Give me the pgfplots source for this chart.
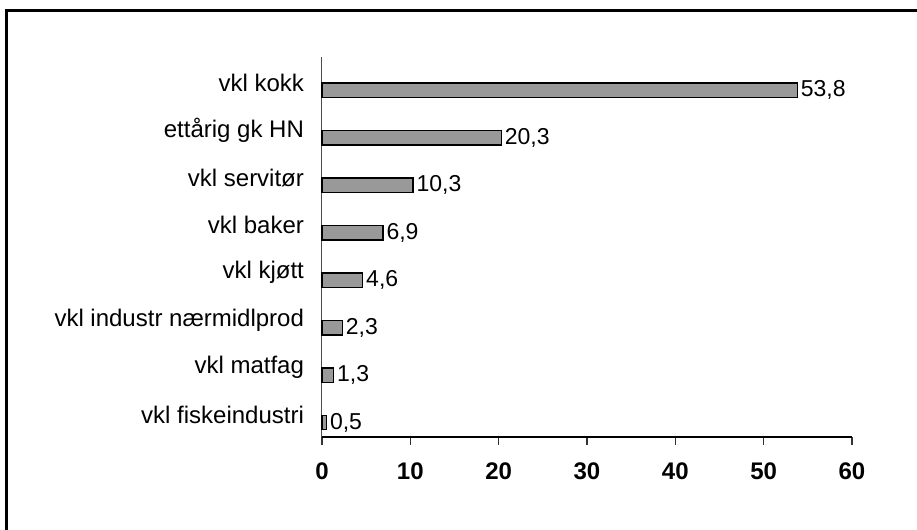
\documentclass[border=0pt]{standalone}
\usepackage{pgfplots}
\pgfplotsset{compat=1.18}
\usepackage{fontspec}
\setmainfont{Liberation Sans}
\begin{document}
\begin{tikzpicture}
\begin{axis}[
    at={(0,0)}, anchor=south west,
    scale only axis,
    width=265pt, height=190pt,
    xbar,
    bar width=7.25pt,
    bar shift=-4.7pt,
    xmin=0, xmax=60,
    ymin=-0.5, ymax=7.5,
    xtick={0,10,...,60},
    ytick={0,...,7},
    yticklabels={vkl fiskeindustri, vkl matfag, vkl industr nærmidlprod, vkl kjøtt, vkl baker, vkl servitør, ettårig gk HN, vkl kokk},
    axis x line=bottom,
    axis y line=left,
    x axis line style={-, line width=0.8pt},
    y axis line style={-, line width=0.5pt, black!70},
    tick align=outside,
    major tick length=4pt,
    xtick style={black!80, line width=0.6pt},
    ytick style={draw=none},
    /pgf/number format/assume math mode=true,
    xticklabel style={font=\bfseries\fontsize{12}{14}\selectfont, yshift=-5.5pt},
    yticklabel style={font=\fontsize{12}{14}\selectfont, xshift=-1.5pt, yshift=-1pt},
    point meta=x,
    nodes near coords={\pgfmathprintnumber[use comma,fixed,fixed zerofill,precision=1]{\pgfplotspointmeta}},
    every node near coord/.append style={font=\fontsize{11.5}{13}\selectfont, anchor=west, inner sep=1.5pt},
    clip=false,
]
\addplot[draw=black, line width=0.6pt, fill=black!40] coordinates {
    (0.5,0) (1.3,1) (2.3,2) (4.6,3) (6.9,4) (10.3,5) (20.3,6) (53.8,7)
};
\end{axis}
\draw[line width=1.5pt] (297.5pt,213pt) -- (-157.5pt,213pt) -- (-157.5pt,-46.5pt);
\pgfresetboundingbox
\path[use as bounding box] (-161pt,-46.5pt) rectangle (297.5pt,218.5pt);
\end{tikzpicture}
\end{document}
